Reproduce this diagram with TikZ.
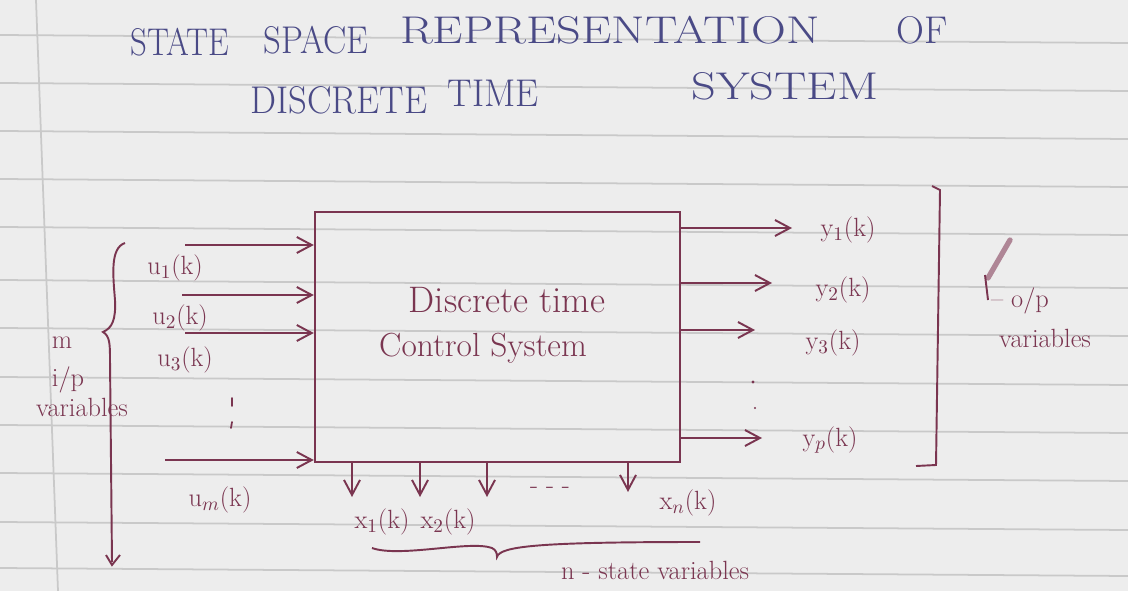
\documentclass[tikz,border=0pt]{standalone}
\usepackage{fontspec}
\usetikzlibrary{arrows.meta,decorations.pathreplacing}
\definecolor{ink}{HTML}{7A3550}
\definecolor{blueink}{HTML}{4A4A86}
\definecolor{paper}{HTML}{EDEDED}
\definecolor{rule}{HTML}{C9C9C9}
\tikzset{
  wire/.style={draw=ink, line width=1.1pt},
  arr/.style={wire, -{Straight Barb[length=3mm,width=3.2mm]}},
  lbl/.style={text=ink, font=\fontsize{15}{17}\selectfont, inner sep=1pt},
  ttl/.style={text=blueink, font=\fontsize{22}{24}\selectfont, inner sep=0pt},
  sysbox/.style={draw=ink, line width=1.4pt, minimum width=7.3cm, minimum height=5cm, inner sep=0pt},
  ruled/.style={draw=rule, line width=1pt},
  tick/.style={draw=ink, line width=1pt, line cap=round}
}
\begin{document}
\begin{tikzpicture}[x=0.02cm,y=-0.02cm]
\fill[paper] (0,0) rectangle (1128,591);
\useasboundingbox (0,0) rectangle (1128,591);
% notebook ruling
\foreach \yy in {35,83,131,179,227,280,328,377,425,473,522,568}
  \draw[ruled] (0,\yy) -- (1128,\yy+8);
\draw[ruled] (36,0) -- (58,591);
% title
\node[ttl] (t1) at (180,42) {\scalebox{0.85}[1]{STATE}};
\node[ttl] (t2) at (316,40) {\scalebox{0.9}[1]{SPACE}};
\node[ttl] (t3) at (610,30) {\scalebox{1.25}[1]{REPRESENTATION}};
\node[ttl] (t4) at (922,30) {OF};
\node[ttl] (t5) at (339,100) {\scalebox{0.95}[1]{DISCRETE}};
\node[ttl] (t6) at (493,93) {\scalebox{0.95}[1]{TIME}};
\node[ttl] (t7) at (785,86) {\scalebox{1.25}[1]{SYSTEM}};
% system block
\node[sysbox] (sys) at (497.5,337) {};
\node[lbl, font=\fontsize{21}{24}\selectfont] (sys1) at (507,300) {Discrete time};
\node[lbl, font=\fontsize{19}{22}\selectfont] (sys2) at (483,348) {Control System};
% inputs
\coordinate (i1) at (185,245);
\coordinate (i2) at (182,295);
\coordinate (i3) at (185,333);
\coordinate (im) at (165,460);
\draw[arr] (i1) -- (sys.west |- i1);
\draw[arr] (i2) -- (sys.west |- i2);
\draw[arr] (i3) -- (sys.west |- i3);
\draw[arr] (im) -- (sys.west |- im);
\node[lbl] (u1) at (175,268) {u$_1$(k)};
\node[lbl] (u2) at (180,318) {u$_2$(k)};
\node[lbl] (u3) at (185,360) {u$_3$(k)};
\draw[tick] (232,398) -- (232,406);
\draw[tick] (232,422) -- (231,428);
\node[lbl] (um) at (220,500) {u$_m$(k)};
% left brace
\draw[wire] (125,243) .. controls (110,248) and (113,275) .. (115,300)
  .. controls (116,320) and (112,328) .. (103,332)
  .. controls (110,336) and (110,345) .. (110,360) -- (112,562);
\draw[wire] (106,555) -- (112,565) -- (120,555);
\node[lbl] (mi) at (62,343) {m};
\node[lbl] (ip) at (68,380) {i/p};
\node[lbl] (var) at (82,407) {variables};
% outputs
\coordinate (o1) at (792,228);
\coordinate (o2) at (772,283);
\coordinate (o3) at (755,330);
\coordinate (op) at (762,438);
\draw[arr] (sys.east |- o1) -- (o1);
\draw[arr] (sys.east |- o2) -- (o2);
\draw[arr] (sys.east |- o3) -- (o3);
\draw[arr] (sys.east |- op) -- (op);
\node[lbl] (y1) at (848,230) {y$_1$(k)};
\node[lbl] (y2) at (843,290) {y$_2$(k)};
\node[lbl] (y3) at (833,343) {y$_3$(k)};
\fill[ink] (753,382) circle (1.6);
\fill[ink] (755,408) circle (1.2);
\node[lbl] (yp) at (830,440) {y$_p$(k)};
% right bracket
\draw[wire] (932,186) -- (940,190) -- (936,465) -- (916,466);
\draw[ink!60, line width=3pt, line cap=round] (1010,240) -- (988,278);
\draw[wire] (985,275) -- (988,300);
\node[lbl] (opl) at (1020,301) {-- o/p};
\node[lbl] (opv) at (1045,338) {variables};
% states
\coordinate (x1) at (352,497);
\coordinate (x2) at (420,497);
\coordinate (x3) at (487,497);
\coordinate (xn) at (628,492);
\draw[arr] (sys.south -| x1) -- (x1);
\draw[arr] (sys.south -| x2) -- (x2);
\draw[arr] (sys.south -| x3) -- (x3);
\draw[arr] (sys.south -| xn) -- (xn);
\node[lbl] (xd) at (550,490) {- - -};
\node[lbl] (x1l) at (382,522) {x$_1$(k)};
\node[lbl] (x2l) at (448,522) {x$_2$(k)};
\node[lbl] (xnl) at (688,503) {x$_n$(k)};
% bottom brace
\draw[wire] (372,548) .. controls (400,558) and (470,540) .. (492,548)
  .. controls (496,550) and (497,553) .. (497,557)
  .. controls (500,546) and (540,542) .. (700,542);
\node[lbl] (nsv) at (655,570) {n - state variables};
\end{tikzpicture}
\end{document}
